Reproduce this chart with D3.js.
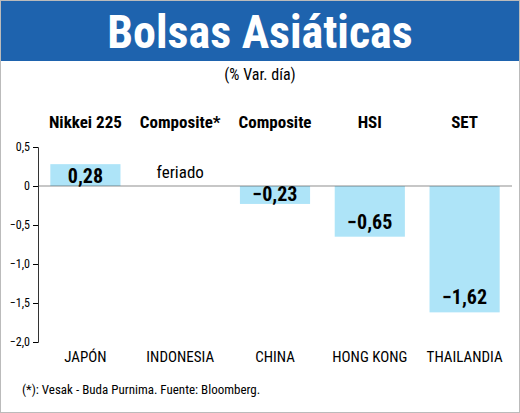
<!DOCTYPE html>
<html><head><meta charset="utf-8">
<script src="https://cdn.jsdelivr.net/npm/d3@7"></script>
<style>body{margin:0;background:#fff}text{font-family:"Liberation Sans Narrow","Roboto Condensed","DejaVu Sans Condensed",sans-serif}</style>
</head><body><svg id="c"></svg>
<script>
const countries = ["JAPÓN","INDONESIA","CHINA","HONG KONG","THAILANDIA"]
const indices = ["Nikkei 225","Composite*","Composite","HSI","SET"]
const values = [0.28, null, -0.23, -0.65, -1.62]
const yTicks = [0.5, 0, -0.5, -1.0, -1.5, -2.0]

const w = 520, h = 413
const svg = d3.select("#c").attr("width", w).attr("height", h)

svg.append("rect").attr("x",0.5).attr("y",0.5).attr("width",w-1).attr("height",h-1).attr("fill","none").attr("stroke","#bbb")
svg.append("rect").attr("x",1).attr("y",1).attr("width",w-2).attr("height",60).attr("fill","#1e63ae")
svg.append("text").attr("x",w/2).attr("y",48).attr("text-anchor","middle").attr("fill","#fff")
  .attr("font-size",46).attr("font-weight","bold").text("Bolsas Asiáticas")
svg.append("text").attr("x",w/2).attr("y",80).attr("text-anchor","middle").attr("font-size",16).text("(% Var. día)")

const x = d3.scaleBand().domain(countries).range([38, 512]).paddingInner(0.26).paddingOuter(0.13)
const y = d3.scaleLinear().domain([-2, 0.5]).range([342, 147])

svg.append("g").attr("transform","translate(38,0)")
  .call(d3.axisLeft(y).tickValues(yTicks).tickSize(5).tickFormat(d => d3.format(".1f")(d).replace(".",",").replace("0,0","0")))
  .call(g => g.select(".domain").attr("stroke","#333"))
  .call(g => g.selectAll("text").attr("font-size",12).attr("font-family","Liberation Sans Narrow, sans-serif"))

svg.selectAll("rect.bar").data(values.map((v,i)=>({v,c:countries[i]})).filter(d=>d.v!==null)).enter()
  .append("rect").attr("class","bar")
  .attr("x", d => x(d.c)).attr("width", x.bandwidth())
  .attr("y", d => y(Math.max(0,d.v))).attr("height", d => Math.abs(y(d.v)-y(0)))
  .attr("fill","#aee4f8")

svg.append("line").attr("x1",38).attr("x2",512).attr("y1",y(0)).attr("y2",y(0)).attr("stroke","#444").attr("stroke-width",0.6)

values.forEach((v,i) => {
  const cx = x(countries[i]) + x.bandwidth()/2
  svg.append("text").attr("x",cx).attr("y",128).attr("text-anchor","middle").attr("font-size",17).attr("font-weight","bold").text(indices[i])
  svg.append("text").attr("x",cx).attr("y",362).attr("text-anchor","middle").attr("font-size",15).text(countries[i])
  let ly, t
  if (v === null) { ly = 178; t = "feriado" }
  else {
    t = d3.format(".2f")(v).replace(".",",")
    if (v > 0) ly = y(0) - 3
    else if (v > -0.3) ly = y(0) + 15
    else ly = y(v) - 8
  }
  svg.append("text").attr("x",cx).attr("y",ly).attr("text-anchor","middle").attr("font-size", v===null?17:20)
    .attr("font-weight", v===null?"normal":"bold").text(t)
})

svg.append("text").attr("x",22).attr("y",394).attr("font-size",13).text("(*): Vesak - Buda Purnima. Fuente: Bloomberg.")
</script></body></html>
